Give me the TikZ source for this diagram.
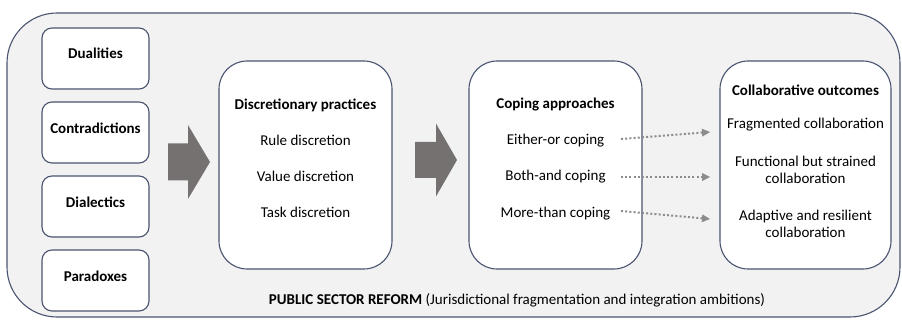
\documentclass[tikz,border=0pt]{standalone}
\usepackage{fontspec}
\setmainfont{Carlito}
\usetikzlibrary{arrows.meta}
\definecolor{frame}{HTML}{4A5470}
\definecolor{panel}{HTML}{F2F2F2}
\definecolor{blockarrow}{HTML}{767171}
\definecolor{flow}{HTML}{8C8C8C}
\begin{document}
\begin{tikzpicture}[x=1pt,y=-1pt,
  txt/.style={font=\fontsize{15}{17.5}\selectfont, inner sep=0pt, align=center},
  ttl/.style={txt, font=\fontsize{15}{17.5}\selectfont\bfseries},
  smallbox/.style={draw=frame, fill=white, line width=1.1pt, rounded corners=10pt,
    minimum width=107pt, minimum height=61pt, inner sep=0pt},
  bigbox/.style={draw=frame, fill=white, line width=1.1pt, rounded corners=28pt,
    minimum width=173pt, minimum height=208pt, inner sep=0pt},
  flowarrow/.style={draw=flow, line width=2pt, dash pattern=on 2pt off 2.2pt,
    -{Triangle[length=8pt,width=8pt,fill=flow,line width=0pt]}, shorten >=0pt}
]
\useasboundingbox (0,0) rectangle (902,320);

% reform frame
\draw[draw=frame, fill=panel, line width=1.1pt, rounded corners=50pt]
  (7,13) rectangle (900,317);

% tension categories
\node[smallbox] (dual) at (95.5,58.5) {};
\node[smallbox] (contr) at (95.5,132.5) {};
\node[smallbox] (dial) at (95.5,206.5) {};
\node[smallbox] (para) at (95.5,280.5) {};
\node[ttl] (tdual) at (95.5,53) {Dualities};
\node[ttl] (tcontr) at (95.5,128) {Contradictions};
\node[ttl] (tdial) at (95.5,202) {Dialectics};
\node[ttl] (tpara) at (95.5,276) {Paradoxes};

% main stages
\node[bigbox] (disc) at (305.5,165) {};
\node[bigbox] (cope) at (555.5,165) {};
\node[bigbox, minimum width=171pt] (outc) at (805.5,165) {};

\node[ttl] (tdisc) at (305.5,105) {Discretionary practices};
\node[txt] (rule) at (305.5,140) {Rule discretion};
\node[txt] (value) at (305.5,176) {Value discretion};
\node[txt] (task) at (305.5,212) {Task discretion};

\node[ttl] (tcope) at (555.5,105) {Coping approaches};
\node[txt] (either) at (555.5,141) {Either-or coping};
\node[txt] (both) at (555.5,177) {Both-and coping};
\node[txt] (more) at (555.5,214) {More-than coping};

\node[ttl] (toutc) at (805.5,90) {Collaborative outcomes};
\node[txt] (frag) at (805.5,125) {Fragmented collaboration};
\node[txt] (func) at (805.5,170) {Functional but strained\\collaboration};
\node[txt] (adap) at (805.5,224) {Adaptive and resilient\\collaboration};

% block arrows between stages
\coordinate (a1) at (168,162);
\fill[blockarrow] (a1) ++(0,-18.5) -- ++(20,0) -- ++(0,-18.5) -- (210,162)
  -- (188,199) -- ++(0,-18.5) -- ++(-20,0) -- cycle;
\coordinate (a2) at (415,160);
\fill[blockarrow] (a2) ++(0,-18) -- ++(21,0) -- ++(0,-18.5) -- (457,160)
  -- (436,196.5) -- ++(0,-18.5) -- ++(-21,0) -- cycle;

% links from coping approaches to outcomes
\coordinate (s1) at (621,139);
\coordinate (e1) at (710,132);
\coordinate (s2) at (621,177);
\coordinate (e2) at (710,177);
\coordinate (s3) at (621,211);
\coordinate (e3) at (710,219);
\draw[flowarrow] (s1) -- (e1);
\draw[flowarrow] (s2) -- (e2);
\draw[flowarrow] (s3) -- (e3);

% context label
\node[txt] (reform) at (517,300) {\textbf{PUBLIC SECTOR REFORM} (Jurisdictional fragmentation and integration ambitions)};
\end{tikzpicture}
\end{document}
